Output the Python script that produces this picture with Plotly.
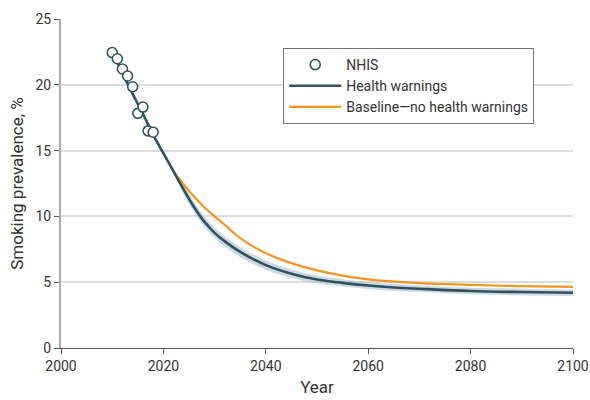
import plotly.graph_objects as go

# NHIS observed data
nhis_years = [2010, 2011, 2012, 2013, 2014, 2015, 2016, 2017, 2018]
nhis_values = [22.45, 21.98, 21.2, 20.67, 19.85, 17.83, 18.31, 16.5, 16.4]

# Model projections
model_years = [2010, 2012, 2014, 2016, 2018, 2020, 2022, 2024, 2026, 2028, 2030,
               2032, 2035, 2040, 2045, 2050, 2055, 2060, 2065, 2070, 2080, 2090, 2100]
health_warnings = [22.5, 20.9, 19.3, 17.8, 16.2, 14.8, 13.4, 12.0, 10.7, 9.6, 8.75,
                   8.1, 7.3, 6.3, 5.65, 5.2, 4.95, 4.75, 4.6, 4.5, 4.33, 4.25, 4.2]
hw_lower = [22.5, 20.9, 19.3, 17.8, 16.2, 14.8, 13.4, 11.65, 10.3, 9.2, 8.35,
            7.7, 6.92, 5.95, 5.33, 4.9, 4.67, 4.48, 4.34, 4.25, 4.08, 4.0, 3.95]
hw_upper = [22.5, 20.9, 19.3, 17.8, 16.2, 14.8, 13.4, 12.35, 11.1, 10.0, 9.15,
            8.5, 7.68, 6.65, 5.97, 5.5, 5.23, 5.02, 4.86, 4.75, 4.58, 4.5, 4.45]

baseline_years = [2022, 2024, 2026, 2028, 2030, 2032, 2035, 2040, 2045, 2050,
                  2055, 2060, 2065, 2070, 2080, 2090, 2100]
baseline = [13.4, 12.4, 11.5, 10.7, 10.0, 9.35, 8.35, 7.2, 6.45, 5.9,
            5.5, 5.22, 5.05, 4.93, 4.79, 4.7, 4.65]

x_ticks = [2000, 2020, 2040, 2060, 2080, 2100]
y_ticks = [0, 5, 10, 15, 20, 25]

DARK = "#2e5261"
ORANGE = "#f7941d"
BAND = "rgba(160,185,200,0.55)"
FONT = "Roboto, Arial, sans-serif"

fig = go.Figure()

fig.add_trace(go.Scatter(x=model_years, y=hw_upper, mode="lines",
                         line=dict(width=0, shape="spline"), showlegend=False,
                         hoverinfo="skip"))
fig.add_trace(go.Scatter(x=model_years, y=hw_lower, mode="lines",
                         line=dict(width=0, shape="spline"), fill="tonexty",
                         fillcolor=BAND, showlegend=False, hoverinfo="skip"))
fig.add_trace(go.Scatter(x=baseline_years, y=baseline, mode="lines",
                         line=dict(color=ORANGE, width=2.2, shape="spline"),
                         name="Baseline\u2014no health warnings", legendrank=3))
fig.add_trace(go.Scatter(x=model_years, y=health_warnings, mode="lines",
                         line=dict(color=DARK, width=2.6, shape="spline"),
                         name="Health warnings", legendrank=2))
fig.add_trace(go.Scatter(x=nhis_years, y=nhis_values, mode="markers",
                         marker=dict(symbol="circle", size=10, color="white",
                                     line=dict(color=DARK, width=1.6)),
                         name="NHIS", legendrank=1))

fig.update_layout(
    width=590, height=400,
    margin=dict(l=61, r=17, t=19, b=52),
    paper_bgcolor="white", plot_bgcolor="white",
    font=dict(family=FONT, size=14, color="#333333"),
    showlegend=True,
    legend=dict(x=0.434, y=0.912, xanchor="left", yanchor="top",
                bordercolor="#777777", borderwidth=1, bgcolor="white",
                font=dict(size=14, color="#333333"), tracegroupgap=0,
                traceorder="normal", itemwidth=52),
    xaxis=dict(range=[2000, 2100], tickvals=x_ticks, ticks="outside",
               ticklen=5, tickcolor="#555555", showgrid=False,
               showline=True, linecolor="#555555", linewidth=1,
               zeroline=False, automargin=False,
               title=dict(text="Year", standoff=8),
               tickfont=dict(size=14)),
    yaxis=dict(range=[0, 25], tickvals=y_ticks, ticks="outside",
               ticklen=5, tickcolor="#555555", showgrid=True,
               gridcolor="#dcdcdc", gridwidth=2,
               showline=True, linecolor="#aaaaaa", linewidth=2,
               zeroline=False, automargin=False,
               title=dict(text="Smoking prevalence, %", standoff=8),
               tickfont=dict(size=14)),
)

fig.write_html("out.html",
               config={"displayModeBar": False},
               post_script="document.body.style.margin='0';document.body.style.overflow='hidden';")
